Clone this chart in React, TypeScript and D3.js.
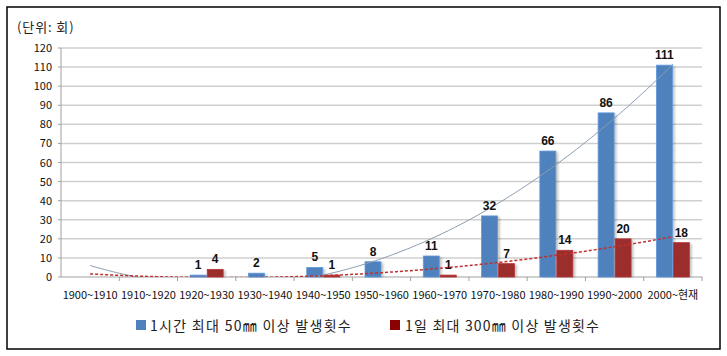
import React from "react";
import * as d3 from "d3";

const categories = ["1900~1910","1910~1920","1920~1930","1930~1940","1940~1950","1950~1960","1960~1970","1970~1980","1980~1990","1990~2000","2000~현재"];
const hourly50 = [0,0,1,2,5,8,11,32,66,86,111];
const daily300 = [0,0,4,0,1,0,1,7,14,20,18];
const yTicks = [0,10,20,30,40,50,60,70,80,90,100,110,120];
const seriesNames = ["1시간 최대 50㎜ 이상 발생횟수", "1일 최대 300㎜ 이상 발생횟수"];
const unitLabel = "(단위: 회)";

const W = 727, H = 356;
const left = 61, right = 702, top = 48, bottom = 277;
const BLUE = "#4F81BD", RED = "#9B2D2D";
const FONT = "'Noto Sans CJK KR', 'Noto Sans', sans-serif";

function quadFit(ys: number[]) {
  const n = ys.length;
  const xs = ys.map((_, i) => i - (n - 1) / 2);
  const s2 = d3.sum(xs, x => x * x);
  const s4 = d3.sum(xs, x => x ** 4);
  const sy = d3.sum(ys);
  const sxy = d3.sum(xs.map((x, i) => x * ys[i]));
  const sx2y = d3.sum(xs.map((x, i) => x * x * ys[i]));
  const b = sxy / s2;
  const c = (sx2y - (s2 * sy) / n) / (s4 - (s2 * s2) / n);
  const a = (sy - c * s2) / n;
  return (i: number) => { const x = i - (n - 1) / 2; return a + b * x + c * x * x; };
}

export default function App() {
  const x0 = d3.scaleBand<string>().domain(categories).range([left, right]);
  const x1 = d3.scaleBand<string>().domain(["a", "b"]).range([0, x0.bandwidth()]).paddingInner(0.06).paddingOuter(0.745);
  const y = d3.scaleLinear().domain([0, 120]).range([bottom, top]);
  const xi = d3.scaleLinear().domain([0, categories.length - 1])
    .range([x0(categories[0])! + x0.bandwidth() / 2, x0(categories[categories.length - 1])! + x0.bandwidth() / 2]);
  const samples = d3.range(0, categories.length - 1 + 0.001, 0.05);
  const line = d3.line<[number, number]>().x(d => xi(d[0])).y(d => y(d[1]));
  const fb = quadFit(hourly50);
  const fr = quadFit(daily300);
  const blueTrend = line(samples.map(t => [t, fb(t)] as [number, number]));
  const redTrend = line(samples.map(t => [t, fr(t)] as [number, number]));

  const series = [
    { key: "a", data: hourly50, color: BLUE },
    { key: "b", data: daily300, color: RED },
  ];

  return (
    <svg width={W} height={H} style={{ position: "absolute", left: 0, top: 0, background: "#fff" }}>
      <defs>
        <clipPath id="plot"><rect x={left} y={top} width={right - left} height={bottom - top} /></clipPath>
        <filter id="shadow" x="-50%" y="-10%" width="200%" height="130%">
          <feGaussianBlur stdDeviation="1.2" />
        </filter>
      </defs>
      <rect x={7} y={7} width={713} height={342} fill="#fff" stroke="#000" strokeWidth={1.5} />
      <text x={17} y={32} fontFamily={FONT} fontSize={13} letterSpacing={0.9} fill="#222">{unitLabel}</text>
      {yTicks.map(t => (
        <g key={t}>
          {t > 0 && <line x1={left} x2={right} y1={y(t)} y2={y(t)} stroke="#cfcfcf" strokeWidth={1.5} />}
          <line x1={left - 3} x2={left} y1={y(t)} y2={y(t)} stroke="#a0a0a0" />
          <text x={52} y={y(t) + 4} textAnchor="end" fontFamily={FONT} fontSize={11} fill="#111">{t}</text>
        </g>
      ))}
      <line x1={left} x2={left} y1={top} y2={bottom} stroke="#a0a0a0" />
      <line x1={left} x2={right} y1={bottom} y2={bottom} stroke="#a0a0a0" />
      {categories.map((c, i) => (
        <g key={c}>
          <line x1={x0(c)! + x0.bandwidth()} x2={x0(c)! + x0.bandwidth()} y1={bottom} y2={bottom + 4} stroke="#a0a0a0" />
          <text x={x0(c)! + x0.bandwidth() / 2} y={299} textAnchor="middle" fontFamily={FONT} fontSize={11} fill="#111">{c}</text>
        </g>
      ))}
      {series.map(s => s.data.map((v, i) => {
        if (v <= 0) return null;
        const bx = x0(categories[i])! + x1(s.key)!;
        const bw = x1.bandwidth();
        const by = y(v);
        const bh = bottom - by;
        return (
          <g key={s.key + i}>
            <rect x={bx + 2.5} y={by + 1} width={bw} height={bh - 1} fill="#000" opacity={0.22} filter="url(#shadow)" />
            <rect x={bx} y={by} width={bw} height={bh} fill={s.color} stroke={d3.color(s.color)!.brighter(0.5).toString()} strokeWidth={0.8} />
          </g>
        );
      }))}
      <g clipPath="url(#plot)">
        <path d={blueTrend!} fill="none" stroke="#8a9cb0" strokeWidth={1} />
        <path d={redTrend!} fill="none" stroke="#c0302f" strokeWidth={1.5} strokeDasharray="3,2" />
      </g>
      {series.map(s => s.data.map((v, i) => {
        if (v <= 0) return null;
        const cx = x0(categories[i])! + x1(s.key)! + x1.bandwidth() / 2;
        return (
          <text key={"l" + s.key + i} x={cx} y={y(v) - 6} textAnchor="middle" fontFamily="'Liberation Sans', Arial, sans-serif" fontWeight="bold" fontSize={12} fill="#111">{v}</text>
        );
      }))}
      <rect x={136} y={320} width={10} height={10} fill={BLUE} />
      <text x={150} y={330.5} fontFamily={FONT} fontSize={14} letterSpacing={1.3} fill="#222">{seriesNames[0]}</text>
      <rect x={390} y={320} width={10} height={10} fill="#8B0000" />
      <text x={405} y={330.5} fontFamily={FONT} fontSize={14} letterSpacing={1.2} fill="#222">{seriesNames[1]}</text>
    </svg>
  );
}
